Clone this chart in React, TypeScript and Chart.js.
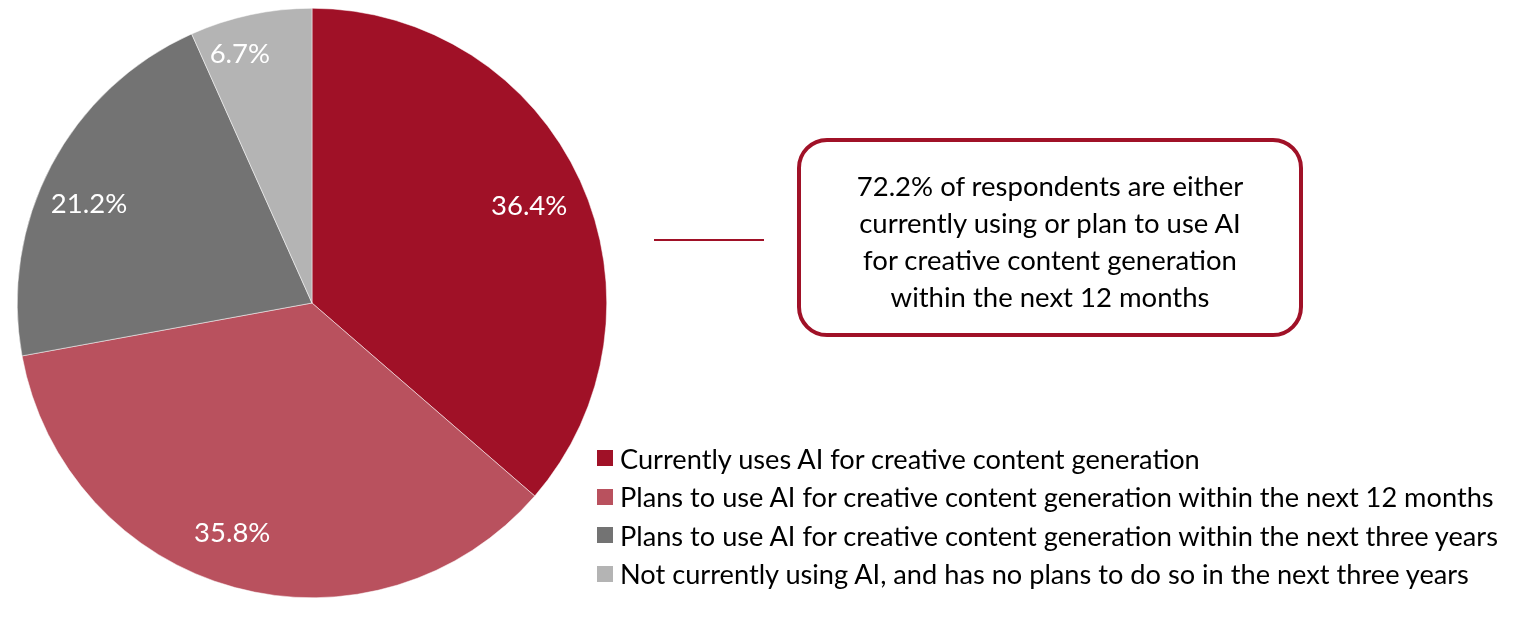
import React, { useEffect, useRef } from "react";
import { Chart, registerables } from "chart.js";

Chart.register(...registerables);

const categories = [
  "Currently uses AI for creative content generation",
  "Plans to use AI for creative content generation within the next 12 months",
  "Plans to use AI for creative content generation within the next three years",
  "Not currently using AI, and has no plans to do so in the next three years",
];
const values = [36.4, 35.8, 21.2, 6.7];
const colors = ["#A01127", "#B9515E", "#737373", "#B4B4B4"];
const labelRadius = [0.81, 0.82, 0.83, 0.885];
const labelAngleShift = [0, 4, -3.5, -4];
const calloutLines = [
  "72.2% of respondents are either",
  "currently using or plan to use AI",
  "for creative content generation",
  "within the next 12 months",
];

const FONT = "Lato, 'Open Sans', sans-serif";

const labelPlugin = {
  id: "sliceLabels",
  afterDatasetsDraw(chart: any) {
    const ctx = chart.ctx;
    const meta = chart.getDatasetMeta(0);
    ctx.save();
    ctx.fillStyle = "#ffffff";
    ctx.font = `27.5px ${FONT}`;
    ctx.textAlign = "center";
    ctx.textBaseline = "middle";
    meta.data.forEach((arc: any, i: number) => {
      const p = arc.getProps(["x", "y", "startAngle", "endAngle", "outerRadius"], true);
      const mid = (p.startAngle + p.endAngle) / 2 + (labelAngleShift[i] * Math.PI) / 180;
      const r = p.outerRadius * labelRadius[i];
      ctx.fillText(values[i].toFixed(1) + "%", p.x + Math.cos(mid) * r, p.y + Math.sin(mid) * r + 2);
    });
    ctx.restore();
  },
};

export default function App() {
  const ref = useRef<HTMLCanvasElement>(null);
  useEffect(() => {
    if (!ref.current) return;
    const chart = new Chart(ref.current, {
      type: "pie",
      data: {
        labels: categories,
        datasets: [
          {
            data: values,
            backgroundColor: colors,
            borderWidth: 0.5,
            borderColor: "#ffffff",
          },
        ],
      },
      options: {
        responsive: false,
        animation: false,
        layout: { padding: { left: 17, top: 8, right: 926, bottom: 21 } },
        plugins: { legend: { display: false }, tooltip: { enabled: false } },
      },
      plugins: [labelPlugin],
    });
    return () => chart.destroy();
  }, []);

  return (
    <div
      style={{
        position: "fixed",
        left: 0,
        top: 0,
        width: 1533,
        height: 619,
        background: "#fff",
        fontFamily: FONT,
        overflow: "hidden",
      }}
    >
      <canvas ref={ref} width={1533} height={619} style={{ position: "absolute", left: 0, top: 0 }} />
      <div
        style={{
          position: "absolute",
          left: 654,
          top: 239,
          width: 110,
          height: 2,
          background: "#A01127",
        }}
      />
      <div
        style={{
          position: "absolute",
          left: 797,
          top: 138,
          width: 506,
          height: 199,
          boxSizing: "border-box",
          border: "4px solid #A01127",
          borderRadius: 30,
          display: "flex",
          flexDirection: "column",
          justifyContent: "center",
          alignItems: "center",
          paddingTop: 6,
          fontSize: 27.5,
          lineHeight: "37px",
          color: "#000",
          textAlign: "center",
        }}
      >
        {calloutLines.map((l, i) => (
          <div key={i}>{l}</div>
        ))}
      </div>
      <div style={{ position: "absolute", left: 597, top: 439 }}>
        {categories.map((c, i) => (
          <div
            key={i}
            style={{ display: "flex", alignItems: "center", height: 38.5, whiteSpace: "nowrap" }}
          >
            <div style={{ width: 16, height: 16, background: colors[i], marginRight: 7 }} />
            <span style={{ fontSize: 27.2, color: "#000" }}>{c}</span>
          </div>
        ))}
      </div>
    </div>
  );
}
